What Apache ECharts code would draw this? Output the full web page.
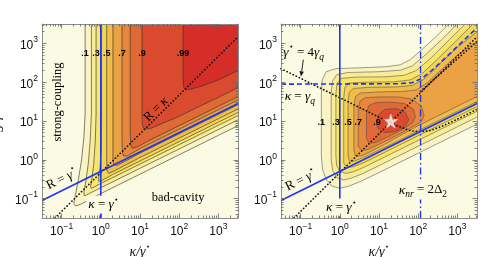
<!DOCTYPE html>
<html>
<head>
<meta charset="utf-8">
<script src="https://cdn.jsdelivr.net/npm/echarts@6.0.0/dist/echarts.min.js"></script>
<style>
html,body{margin:0;padding:0;background:#ffffff;}
#chart{width:482px;height:257px;}
</style>
</head>
<body>
<div id="chart"></div>
<script>
// ---------- DATA (coordinates in decades: log10(kappa/gamma*), log10(g/gamma*)) ----------
const axisRange = [-1.5, 3.5];
const majorTicks = [-1, 0, 1, 2, 3];
const minorFactors = [2, 3, 4, 5, 6, 7, 8, 9];

// Left panel: contour levels and contour paths
const leftLevels = [0.1, 0.2, 0.3, 0.4, 0.5, 0.6, 0.7, 0.8, 0.9, 0.99];
const left10 = [[-0.40,3.5],[-0.40,1.2],[-0.43,0.6],[-0.49,0.0],[-0.57,-0.5],[-0.65,-0.92],[-0.69,-1.12],[-0.64,-1.19],[-0.5,-1.14],[-0.25,-1.0],[0.0,-0.87],[1.0,-0.37],[2.0,0.13],[3.0,0.63],[3.5,0.88]];
const left20 = [[-0.24,3.5],[-0.24,1.2],[-0.27,0.5],[-0.32,-0.1],[-0.38,-0.55],[-0.43,-0.82],[-0.43,-0.92],[-0.37,-0.91],[-0.2,-0.82],[0.5,-0.47],[1.5,0.03],[2.5,0.53],[3.5,1.03]];
const left30 = [[-0.12,3.5],[-0.12,1.2],[-0.14,0.5],[-0.18,-0.1],[-0.23,-0.5],[-0.26,-0.68],[-0.24,-0.74],[-0.15,-0.69],[0.0,-0.61],[1.0,-0.11],[2.0,0.39],[3.0,0.89],[3.5,1.14]];
const left40 = [[0.02,3.5],[0.02,1.0],[0.01,0.3],[-0.02,-0.2],[-0.06,-0.48],[-0.05,-0.56],[0.05,-0.52],[0.3,-0.38],[1.0,-0.03],[2.0,0.47],[3.0,0.97],[3.5,1.22]];
const left50 = [[0.15,3.5],[0.15,0.6],[0.15,0.0],[0.16,-0.28],[0.2,-0.35],[0.35,-0.28],[1.0,0.06],[2.0,0.56],[3.0,1.06],[3.5,1.31]];
const left60 = [[0.31,3.5],[0.31,0.5],[0.31,0.0],[0.33,-0.12],[0.4,-0.15],[0.6,-0.05],[1.0,0.17],[2.0,0.67],[3.0,1.17],[3.5,1.42]];
const left70 = [[0.54,3.5],[0.54,0.6],[0.55,0.2],[0.58,0.1],[0.68,0.1],[1.0,0.29],[2.0,0.79],[3.0,1.29],[3.5,1.54]];
const left80 = [[0.75,3.5],[0.75,0.8],[0.76,0.4],[0.8,0.3],[0.9,0.32],[1.2,0.48],[2.0,0.88],[3.0,1.38],[3.5,1.63]];
const left90 = [[1.05,3.5],[1.05,1.2],[1.06,0.9],[1.1,0.8],[1.25,0.8],[1.6,0.95],[2.0,1.12],[2.5,1.37],[3.0,1.61],[3.5,1.86]];
const left99 = [[2.1,3.5],[2.1,2.1],[2.11,1.88],[2.16,1.81],[2.3,1.82],[2.6,1.91],[3.0,2.06],[3.5,2.3]];

// Right panel: contour levels and contour paths
const rightLevels = [0.1, 0.2, 0.3, 0.4, 0.5, 0.6, 0.7, 0.8, 0.9];
const right10 = [[3.5,0.92],[3.0,0.67],[2.5,0.42],[2.0,0.17],[1.5,-0.08],[1.0,-0.33],[0.5,-0.57],[0.2,-0.69],[0.0,-0.73],[-0.2,-0.68],[-0.35,-0.5],[-0.44,-0.25],[-0.47,0.1],[-0.47,1.7],[-0.45,2.05],[-0.35,2.27],[-0.1,2.35],[0.5,2.37],[1.2,2.4],[1.55,2.45],[1.8,2.58],[2.1,2.85],[2.45,3.17],[2.78,3.5]];
const right20 = [[3.5,1.1],[3.0,0.85],[2.5,0.6],[2.0,0.35],[1.5,0.1],[1.0,-0.15],[0.6,-0.35],[0.3,-0.47],[0.1,-0.52],[-0.08,-0.46],[-0.18,-0.28],[-0.22,0.0],[-0.22,1.7],[-0.19,2.02],[-0.08,2.19],[0.2,2.25],[1.0,2.27],[1.55,2.31],[1.85,2.42],[2.2,2.72],[2.6,3.1],[3.0,3.5]];
const right30 = [[3.5,1.25],[3.0,1.0],[2.5,0.75],[2.0,0.5],[1.5,0.25],[1.0,0.0],[0.6,-0.2],[0.35,-0.31],[0.15,-0.35],[0.0,-0.3],[-0.08,-0.15],[-0.1,0.1],[-0.1,1.7],[-0.07,1.98],[0.05,2.1],[0.4,2.13],[1.2,2.14],[1.65,2.18],[1.95,2.3],[2.3,2.6],[2.8,3.1],[3.2,3.5]];
const right40 = [[3.5,1.37],[3.0,1.12],[2.5,0.87],[2.0,0.62],[1.5,0.37],[1.0,0.12],[0.6,-0.08],[0.35,-0.18],[0.17,-0.2],[0.1,-0.08],[0.1,1.6],[0.13,1.87],[0.25,1.98],[0.7,2.0],[1.4,2.01],[1.8,2.06],[2.1,2.22],[2.5,2.6],[3.0,3.1],[3.4,3.5]];
const right50 = [[3.5,1.5],[3.0,1.25],[2.5,1.0],[2.0,0.75],[1.5,0.49],[1.0,0.25],[0.6,0.06],[0.35,-0.04],[0.24,-0.03],[0.21,0.1],[0.21,1.5],[0.24,1.74],[0.35,1.84],[0.8,1.87],[1.5,1.88],[1.85,1.92],[2.15,2.08],[2.5,2.42],[3.0,2.9],[3.5,3.3]];
const right60 = [[3.5,1.63],[3.0,1.38],[2.5,1.13],[2.0,0.88],[1.6,0.66],[1.2,0.43],[0.8,0.22],[0.55,0.1],[0.4,0.1],[0.36,0.25],[0.36,1.4],[0.4,1.63],[0.52,1.72],[1.0,1.75],[1.6,1.76],[1.95,1.8],[2.25,2.0],[2.6,2.33],[3.0,2.7],[3.5,3.05]];
const right70 = [[0.47,0.35],[0.47,1.3],[0.52,1.52],[0.65,1.6],[1.0,1.62],[1.5,1.62],[1.85,1.56],[2.08,1.38],[2.15,1.15],[2.08,0.98],[1.8,0.82],[1.4,0.6],[1.0,0.4],[0.7,0.26],[0.55,0.24],[0.47,0.35]];
const right80 = [[0.68,0.55],[0.68,1.2],[0.74,1.4],[0.9,1.47],[1.3,1.49],[1.65,1.45],[1.88,1.3],[1.93,1.1],[1.85,0.95],[1.6,0.78],[1.2,0.58],[0.9,0.44],[0.75,0.43],[0.68,0.55]];
const right90 = [[0.93,0.95],[0.98,1.16],[1.15,1.3],[1.45,1.32],[1.68,1.22],[1.76,1.03],[1.66,0.85],[1.42,0.73],[1.15,0.7],[0.98,0.8],[0.93,0.95]];

// Guide lines
const lineRgamma = [[-1.5,-1.05],[3.5,1.45]];          // R = gamma*
const lineRkappa = [[-1.17,-1.5],[3.5,3.17]];          // R = kappa
const lineKappaGamma = [[0,-1.5],[0,3.5]];             // kappa = gamma*
const lineKappaNr = [[2.06,-1.5],[2.06,3.5]];          // kappa_nr = 2 Delta_2
const lineKappaGammaQ = [[-1.5,1.95],[1.5,1.96],[1.85,1.99],[2.1,2.1],[2.4,2.35],[2.75,2.68],[3.1,3.02],[3.5,3.4]];
const lineGammaQ4 = [[-1.5,2.35],[-0.5,1.85],[0.5,1.35],[1.0,1.1],[1.5,0.86],[1.8,0.75],[2.05,0.72],[2.3,0.75],[2.6,0.86],[3.0,1.05],[3.5,1.3]];
const lineUpperDotted = [[2.06,1.76],[2.6,2.25],[3.0,2.6],[3.5,3.05]];
const starPoint = [[1.3, 1.0]];

// Text labels
const leftContourLabels = ['.1', '.3', '.5', '.7', '.9', '.99'];
const leftContourLabelX = [-0.40, -0.12, 0.15, 0.54, 1.05, 2.10];
const rightContourLabels = ['.1', '.3', '.5', '.7', '.9'];
const rightContourLabelX = [-0.47, -0.10, 0.21, 0.47, 0.95];

// ---------- STYLE ----------
const SERIF = '"Liberation Serif", "Times New Roman", serif';
const SANS = '"Liberation Sans", Arial, sans-serif';
const BASE = '#fbfae2';
const BLUE = '#1b36f2';
const bandColors = ['#faf4c4','#f8ec98','#f7e468','#f4d455','#f0bc4c','#eba244','#e6873d','#e06a35','#da4a2e','#d52d28'];

const leftContours = [left10,left20,left30,left40,left50,left60,left70,left80,left90,left99];
const rightContours = [right10,right20,right30,right40,right50,right60,right70,right80,right90];

const minorTicks = [];
for (let n = -2; n <= 3; n++) for (const k of minorFactors) {
  const v = n + Math.log10(k);
  if (v > axisRange[0] + 1e-6 && v < axisRange[1] - 1e-6) minorTicks.push(v);
}

const powRich = {
  b: {fontSize: 12, fontFamily: SANS, color: '#111', lineHeight: 16, verticalAlign: 'bottom'},
  s: {fontSize: 8.5, fontFamily: SANS, color: '#111', lineHeight: 16, verticalAlign: 'top'}
};
function fmtPow(v) {
  const e = Math.round(v);
  return '{b|10}{s|' + (e < 0 ? '\u2212' + (-e) : e) + '}';
}
const nameRich = {
  i: {fontFamily: SERIF, fontStyle: 'italic', fontSize: 14, lineHeight: 18, verticalAlign: 'middle', color: '#111'},
  sup: {fontFamily: '"DejaVu Sans"', fontSize: 8, lineHeight: 18, verticalAlign: 'top', color: '#111'}
};

function makeAxes(dim, gi, name) {
  const isX = dim === 'x';
  const base = {type: 'value', gridIndex: gi, min: axisRange[0], max: axisRange[1],
    splitLine: {show: false}, z: 20, silent: true};
  const lineStyle = {color: '#8c8c8c', width: 1};
  const tickStyle = {color: '#666', width: 0.8};
  const main = Object.assign({}, base, {
    position: isX ? 'bottom' : 'left',
    axisLine: {show: true, onZero: false, lineStyle},
    axisTick: {show: true, inside: true, length: 4.5, customValues: majorTicks, lineStyle: tickStyle},
    axisLabel: {show: true, customValues: majorTicks, margin: 4, formatter: fmtPow, rich: powRich}
  });
  if (name) {
    main.name = name;
    main.nameLocation = 'middle';
    main.nameGap = isX ? 25 : 37;
    main.nameRotate = isX ? 0 : 90;
    main.nameTextStyle = {rich: nameRich};
  }
  const minor = Object.assign({}, base, {
    position: isX ? 'bottom' : 'left',
    axisLine: {show: false, onZero: false},
    axisTick: {show: true, inside: true, length: 2.5, customValues: minorTicks, lineStyle: tickStyle},
    axisLabel: {show: false}
  });
  const opp = Object.assign({}, base, {
    position: isX ? 'top' : 'right',
    axisLine: {show: true, onZero: false, lineStyle},
    axisTick: {show: true, inside: true, length: 4.5, customValues: majorTicks, lineStyle: tickStyle},
    axisLabel: {show: false}
  });
  const oppMinor = Object.assign({}, base, {
    position: isX ? 'top' : 'right',
    axisLine: {show: false, onZero: false},
    axisTick: {show: true, inside: true, length: 2.5, customValues: minorTicks, lineStyle: tickStyle},
    axisLabel: {show: false}
  });
  return [main, minor, opp, oppMinor];
}

const xName = '{i|\u03BA/\u03B3}{sup|\u22C6}';
const yName = '{i|g/\u03B3}{sup|\u22C6}';
const xAxes = [].concat(makeAxes('x', 0, xName), makeAxes('x', 1, xName));
const yAxes = [].concat(makeAxes('y', 0, yName), makeAxes('y', 1, null));

function contourSeries(gi, contours, levels, stroke) {
  const data = contours.map((c, i) => [c[0][0], c[0][1], i]);
  const fill = {
    type: 'custom', xAxisIndex: gi * 4, yAxisIndex: gi * 4, z: 1, silent: true,
    encode: {x: 0, y: 1}, data,
    renderItem: (params, api) => {
      const c = contours[params.dataIndex].slice();
      const f = c[0], l = c[c.length - 1];
      const M = axisRange[1];
      if ((l[1] >= M && f[0] >= M) || (l[0] >= M && f[1] >= M)) c.push([M, M]);
      return {type: 'polygon', shape: {points: c.map(p => api.coord(p))},
        style: {fill: bandColors[params.dataIndex], stroke: null}};
    }
  };
  const lines = {
    type: 'custom', xAxisIndex: gi * 4, yAxisIndex: gi * 4, z: 2, silent: true,
    encode: {x: 0, y: 1}, data,
    renderItem: (params, api) => ({
      type: 'polyline', shape: {points: contours[params.dataIndex].map(p => api.coord(p))},
      style: {stroke, lineWidth: 0.75, fill: null}
    })
  };
  return [fill, lines];
}

function guide(gi, data, style) {
  return {type: 'line', xAxisIndex: gi * 4, yAxisIndex: gi * 4, data, z: 3, silent: true,
    symbol: 'none', showSymbol: false, lineStyle: style};
}
const blueSolid = {color: BLUE, width: 1.6};
const dotted = {color: '#111', width: 1.7, type: [0.1, 3.3], cap: 'round'};

const txtRich = {
  t: {fontFamily: SERIF, fontSize: 13, lineHeight: 18, verticalAlign: 'middle', color: '#222'},
  w: {fontFamily: SERIF, fontSize: 12.5, lineHeight: 16, verticalAlign: 'middle', color: '#333'},
  i: {fontFamily: SERIF, fontStyle: 'italic', fontSize: 13.5, lineHeight: 18, verticalAlign: 'middle', color: '#222'},
  sup: {fontFamily: '"DejaVu Sans"', fontSize: 8, lineHeight: 18, verticalAlign: 'top', color: '#222'},
  sub: {fontFamily: SERIF, fontStyle: 'italic', fontSize: 9.5, lineHeight: 19, verticalAlign: 'bottom', color: '#222'},
  subr: {fontFamily: SERIF, fontSize: 9.5, lineHeight: 19, verticalAlign: 'bottom', color: '#222'},
  c: {fontFamily: SANS, fontWeight: 'bold', fontSize: 9, lineHeight: 11, verticalAlign: 'middle', color: '#111'}
};

const leftNotes = [
  {t: '{w|strong-coupling}', at: [-1.09, 1.49], rot: 90},
  {t: '{w|bad-cavity}', at: [1.97, -0.98], rot: 0},
  {t: '{t|R = }{i|\u03BA}', at: [1.41, 1.30], rot: 45},
  {t: '{t|R = }{i|\u03B3}{sup|\u22C6}', at: [-0.99, -0.50], rot: 26.5},
  {t: '{i|\u03BA}{t| = }{i|\u03B3}{sup|\u22C6}', at: [0.07, -1.16], rot: 0, bg: BASE}
].concat(leftContourLabels.map((s, i) => ({t: '{c|' + s + '}', at: [leftContourLabelX[i], 2.75], rot: 0})));

const rightNotes = [
  {t: '{i|\u03B3}{sup|\u22C6}{t| = 4}{i|\u03B3}{sub|q}', at: [-0.92, 2.76], rot: 0},
  {t: '{i|\u03BA}{t| = }{i|\u03B3}{sub|q}', at: [-1.02, 1.63], rot: 0},
  {t: '{t|R = }{i|\u03B3}{sup|\u22C6}', at: [-0.99, -0.53], rot: 26.5},
  {t: '{i|\u03BA}{t| = }{i|\u03B3}{sup|\u22C6}', at: [0.04, -1.23], rot: 0, bg: BASE},
  {t: '{i|\u03BA}{sub|nr}{t| = 2\u0394}{subr|2}', at: [2.12, -0.78], rot: 0, bg: BASE}
].concat(rightContourLabels.map((s, i) => ({t: '{c|' + s + '}', at: [rightContourLabelX[i], 0.95], rot: 0})));
const rightArrow = [[-0.93, 2.58], [-0.99, 2.15]];

function notesSeries(gi, notes) {
  return {
    type: 'custom', xAxisIndex: gi * 4, yAxisIndex: gi * 4, z: 6, silent: true,
    encode: {x: 0, y: 1}, data: notes.map(n => [n.at[0], n.at[1]]),
    renderItem: (params, api) => {
      const n = notes[params.dataIndex];
      const p = api.coord(n.at);
      const style = {text: n.t, rich: txtRich, align: 'center', verticalAlign: 'middle'};
      if (n.bg) { style.backgroundColor = n.bg; style.padding = [0, 2]; }
      return {type: 'text', x: p[0], y: p[1], rotation: n.rot * Math.PI / 180, style};
    }
  };
}
function arrowSeries(gi, seg) {
  return {
    type: 'custom', xAxisIndex: gi * 4, yAxisIndex: gi * 4, z: 6, silent: true,
    encode: {x: 0, y: 1}, data: [[seg[0][0], seg[0][1]]],
    renderItem: (params, api) => {
      const a = api.coord(seg[0]), b = api.coord(seg[1]);
      const dx = b[0] - a[0], dy = b[1] - a[1], L = Math.hypot(dx, dy);
      const ux = dx / L, uy = dy / L, h = 5, w = 2.2;
      const bx = b[0] - ux * h, by = b[1] - uy * h;
      return {type: 'group', children: [
        {type: 'line', shape: {x1: a[0], y1: a[1], x2: bx, y2: by}, style: {stroke: '#111', lineWidth: 0.9}},
        {type: 'polygon', shape: {points: [b, [bx - uy * w, by + ux * w], [bx + uy * w, by - ux * w]]}, style: {fill: '#111'}}
      ]};
    }
  };
}

const series = [].concat(
  contourSeries(0, leftContours, leftLevels, 'rgba(45,45,45,0.8)'),
  contourSeries(1, rightContours, rightLevels, 'rgba(70,70,70,0.7)'),
  [
    guide(0, lineRkappa, dotted),
    guide(0, lineKappaGamma, blueSolid),
    guide(0, lineRgamma, blueSolid),
    guide(1, lineRkappa, dotted),
    guide(1, lineGammaQ4, dotted),
    guide(1, lineUpperDotted, dotted),
    guide(1, lineKappaGamma, blueSolid),
    guide(1, lineRgamma, blueSolid),
    guide(1, lineKappaGammaQ, {color: BLUE, width: 1.6, type: [5, 3]}),
    guide(1, lineKappaNr, {color: BLUE, width: 1.4, type: [7, 3, 1.5, 3]}),
    {type: 'scatter', xAxisIndex: 4, yAxisIndex: 4, data: starPoint, z: 5, silent: true,
      symbol: 'path://M50,0 L61,35 L98,35 L68,57 L79,91 L50,70 L21,91 L32,57 L2,35 L39,35 Z',
      symbolSize: 14, itemStyle: {color: '#ffffff', borderColor: '#ffffff', borderWidth: 0.5}},
    notesSeries(0, leftNotes),
    notesSeries(1, rightNotes),
    arrowSeries(1, rightArrow)
  ]
);

const chart = echarts.init(document.getElementById('chart'), null, {renderer: 'canvas'});
chart.setOption({
  animation: false,
  backgroundColor: '#ffffff',
  grid: [
    {left: 42, top: 24, width: 196, height: 194, show: true, backgroundColor: BASE, borderWidth: 0,
      containLabel: false, outerBoundsMode: 'none'},
    {left: 281, top: 24, width: 196, height: 194, show: true, backgroundColor: BASE, borderWidth: 0,
      containLabel: false, outerBoundsMode: 'none'}
  ],
  xAxis: xAxes,
  yAxis: yAxes,
  series
});
</script>
</body>
</html>
